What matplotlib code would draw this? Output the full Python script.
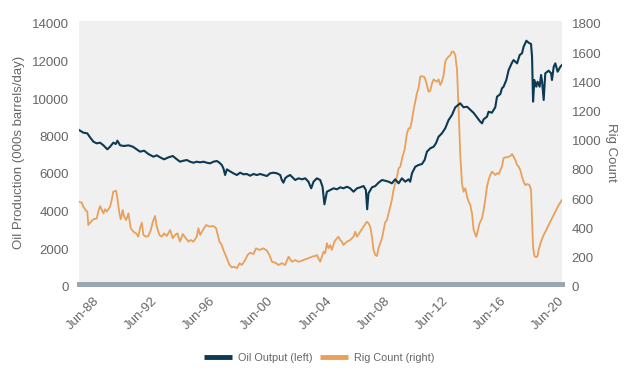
import matplotlib
matplotlib.use("Agg")
import matplotlib.pyplot as plt
import matplotlib.transforms as mtransforms
from matplotlib.lines import Line2D

plt.rcParams['font.family'] = ['Liberation Sans', 'DejaVu Sans']

# ---- data (decimal years) ----
oil_years = [
    1987.45, 1987.75, 1988.02, 1988.21, 1988.44, 1988.67, 1988.90, 1989.13, 1989.40, 1989.59,
    1989.81, 1989.98, 1990.09, 1990.28, 1990.55, 1990.85, 1991.15, 1991.42, 1991.65, 1991.93,
    1992.22, 1992.57, 1992.80, 1993.03, 1993.30, 1993.60, 1993.90, 1994.18, 1994.40, 1994.63,
    1994.87, 1995.09, 1995.32, 1995.55, 1995.78, 1996.01, 1996.24, 1996.47, 1996.70, 1996.93,
    1997.11, 1997.27, 1997.38, 1997.50, 1997.62, 1997.80, 1998.07, 1998.31, 1998.53, 1998.76,
    1998.99, 1999.22, 1999.45, 1999.68, 1999.91, 2000.14, 2000.37, 2000.60, 2000.83, 2001.06,
    2001.29, 2001.40, 2001.51, 2001.63, 2001.75, 2001.97, 2002.09, 2002.32, 2002.55, 2002.78,
    2003.01, 2003.23, 2003.42, 2003.58, 2003.81, 2004.04, 2004.20, 2004.33, 2004.50, 2004.73,
    2004.96, 2005.19, 2005.42, 2005.64, 2005.88, 2006.10, 2006.33, 2006.57, 2006.79, 2007.02,
    2007.18, 2007.27, 2007.36, 2007.60, 2007.83, 2008.05, 2008.29, 2008.51, 2008.74, 2008.97,
    2009.20, 2009.43, 2009.66, 2009.89, 2010.12, 2010.23, 2010.35, 2010.58, 2010.80, 2011.04,
    2011.22, 2011.38, 2011.61, 2011.84, 2012.00, 2012.18, 2012.41, 2012.64, 2012.87, 2013.10,
    2013.33, 2013.52, 2013.67, 2013.90, 2014.14, 2014.36, 2014.59, 2014.82, 2015.05, 2015.17,
    2015.28, 2015.51, 2015.62, 2015.85, 2016.08, 2016.20, 2016.43, 2016.54, 2016.65, 2016.84,
    2017.00, 2017.23, 2017.34, 2017.58, 2017.76, 2017.92, 2018.03, 2018.22, 2018.37, 2018.54,
    2018.61, 2018.68, 2018.77, 2018.90, 2018.99, 2019.13, 2019.23, 2019.30, 2019.41, 2019.52,
    2019.75, 2019.92, 2019.98, 2020.10, 2020.21, 2020.37, 2020.56, 2020.67,
]
oil_output = [
    8187, 8044, 8009, 7796, 7564, 7475, 7511, 7369, 7156, 7298,
    7511, 7440, 7618, 7369, 7333, 7369, 7298, 7156, 7031, 7084,
    6906, 6764, 6835, 6728, 6622, 6728, 6800, 6622, 6497, 6549,
    6586, 6496, 6442, 6496, 6461, 6496, 6442, 6410, 6496, 6533,
    6442, 6320, 6143, 5786, 6090, 6000, 5877, 5786, 5909, 5824,
    5840, 5749, 5840, 5786, 5840, 5786, 5733, 5877, 5909, 5877,
    5786, 5520, 5376, 5610, 5696, 5786, 5696, 5520, 5610, 5556,
    5610, 5429, 5077, 5429, 5610, 5520, 5162, 4224, 4896, 4986,
    5077, 5024, 5130, 5077, 5162, 5077, 4896, 5077, 5130, 5200,
    4986, 3957, 4810, 5130, 5200, 5376, 5520, 5480, 5429, 5344,
    5557, 5344, 5610, 5429, 5557, 5429, 5877, 6229, 6320, 6373,
    6586, 7029, 7210, 7296, 7477, 7829, 8010, 8277, 8719, 8986,
    9397, 9520, 9610, 9397, 9429, 9270, 9100, 8863, 8629, 8543,
    8757, 8896, 9162, 9109, 9397, 9962, 10106, 10410, 10495, 10853,
    11386, 11776, 11919, 11742, 12186, 12277, 12628, 12948, 12842, 12773,
    12095, 9697, 10853, 10495, 10762, 10495, 11120, 10762, 9786, 11210,
    11349, 11210, 10853, 11562, 11742, 11296, 11562, 11653,
]

rig_years = [
    1987.45, 1987.64, 1987.75, 1987.93, 1988.02, 1988.09, 1988.21, 1988.44, 1988.67, 1988.78,
    1988.90, 1989.02, 1989.13, 1989.24, 1989.36, 1989.59, 1989.70, 1989.81, 1990.00, 1990.09,
    1990.23, 1990.32, 1990.46, 1990.55, 1990.69, 1990.85, 1991.01, 1991.19, 1991.38, 1991.53,
    1991.65, 1991.77, 1991.88, 1992.06, 1992.22, 1992.39, 1992.53, 1992.68, 1992.80, 1992.98,
    1993.15, 1993.30, 1993.49, 1993.72, 1993.90, 1994.06, 1994.22, 1994.40, 1994.59, 1994.75,
    1994.98, 1995.14, 1995.32, 1995.55, 1995.66, 1995.78, 1996.01, 1996.19, 1996.42, 1996.70,
    1996.88, 1996.97, 1997.11, 1997.27, 1997.38, 1997.62, 1997.80, 1997.96, 1998.12, 1998.31,
    1998.49, 1998.65, 1998.88, 1999.04, 1999.22, 1999.45, 1999.63, 1999.86, 2000.14, 2000.37,
    2000.55, 2000.72, 2000.94, 2001.17, 2001.40, 2001.63, 2001.86, 2002.09, 2002.32, 2002.55,
    2002.78, 2003.01, 2003.23, 2003.47, 2003.70, 2003.81, 2003.92, 2004.04, 2004.16, 2004.27,
    2004.38, 2004.50, 2004.61, 2004.73, 2004.84, 2005.02, 2005.19, 2005.30, 2005.42, 2005.53,
    2005.64, 2005.88, 2006.10, 2006.33, 2006.45, 2006.57, 2006.79, 2007.02, 2007.25, 2007.36,
    2007.48, 2007.60, 2007.71, 2007.83, 2007.94, 2008.05, 2008.29, 2008.51, 2008.63, 2008.74,
    2008.86, 2008.97, 2009.08, 2009.20, 2009.32, 2009.43, 2009.55, 2009.70, 2009.84, 2009.94,
    2010.01, 2010.12, 2010.23, 2010.35, 2010.46, 2010.58, 2010.69, 2010.80, 2010.92, 2011.04,
    2011.22, 2011.38, 2011.49, 2011.61, 2011.73, 2011.84, 2011.95, 2012.07, 2012.18, 2012.30,
    2012.41, 2012.53, 2012.64, 2012.76, 2012.99, 2013.10, 2013.21, 2013.33, 2013.45, 2013.56,
    2013.67, 2013.79, 2013.90, 2014.02, 2014.14, 2014.25, 2014.36, 2014.48, 2014.59, 2014.71,
    2014.78, 2014.86, 2015.00, 2015.17, 2015.28, 2015.39, 2015.51, 2015.62, 2015.74, 2015.85,
    2015.97, 2016.08, 2016.20, 2016.31, 2016.43, 2016.54, 2016.65, 2016.77, 2016.89, 2017.00,
    2017.12, 2017.23, 2017.34, 2017.46, 2017.58, 2017.69, 2017.80, 2017.92, 2018.03, 2018.15,
    2018.26, 2018.44, 2018.54, 2018.61, 2018.68, 2018.77, 2018.90, 2018.99, 2019.06, 2019.23,
    2019.41, 2019.59, 2019.75, 2019.98, 2020.21, 2020.44, 2020.67,
]
rig_count = [
    561, 554, 527, 499, 493, 401, 417, 440, 447, 493,
    531, 504, 481, 509, 493, 527, 573, 630, 637, 584,
    481, 440, 504, 458, 435, 481, 379, 355, 344, 321,
    379, 417, 333, 321, 326, 367, 424, 463, 390, 333,
    321, 344, 326, 367, 310, 333, 344, 287, 339, 317,
    287, 298, 287, 321, 379, 333, 372, 401, 390, 394,
    379, 344, 287, 264, 230, 173, 127, 111, 115, 104,
    139, 127, 161, 195, 211, 202, 241, 230, 241, 225,
    195, 149, 143, 127, 139, 127, 184, 149, 161, 149,
    156, 166, 173, 184, 189, 195, 173, 149, 184, 218,
    207, 276, 241, 264, 230, 287, 310, 321, 298, 287,
    264, 287, 298, 321, 355, 321, 355, 390, 424, 413,
    390, 321, 230, 195, 189, 241, 310, 420, 435, 481,
    527, 573, 641, 687, 732, 790, 801, 870, 915, 984,
    1030, 1064, 1064, 1121, 1190, 1247, 1304, 1338, 1418, 1423,
    1414, 1361, 1315, 1322, 1373, 1400, 1391, 1384, 1400, 1361,
    1384, 1430, 1521, 1544, 1567, 1590, 1590, 1567, 1464, 1190,
    893, 687, 630, 653, 595, 561, 540, 481, 370, 335,
    321, 355, 413, 447, 504, 573, 664, 710, 744, 767,
    756, 744, 756, 751, 778, 801, 859, 865, 865, 870,
    874, 888, 870, 847, 813, 801, 778, 732, 698, 675,
    682, 675, 641, 435, 252, 189, 180, 189, 230, 287,
    333, 367, 401, 447, 493, 538, 573,
]

tick_years = [1988.42, 1992.42, 1996.42, 2000.42, 2004.42, 2008.42, 2012.42, 2016.42, 2020.42]
tick_labels = ['Jun-88', 'Jun-92', 'Jun-96', 'Jun-00', 'Jun-04', 'Jun-08', 'Jun-12', 'Jun-16', 'Jun-20']
left_ticks = [0, 2000, 4000, 6000, 8000, 10000, 12000, 14000]
right_ticks = [0, 200, 400, 600, 800, 1000, 1200, 1400, 1600, 1800]

oil_color = '#0c3a52'
rig_color = '#e9a05a'
text_color = '#666666'

fig = plt.figure(figsize=(6.3, 3.78), dpi=100)
ax = fig.add_axes([79/630, 1-283.5/378, (562-79)/630, (283.5-21)/378])
ax2 = ax.twinx()

ax.plot(oil_years, oil_output, color=oil_color, lw=1.5, zorder=3)
ax2.plot(rig_years, rig_count, color=rig_color, lw=1.3, zorder=2)
ax.set_zorder(ax2.get_zorder() + 1)
ax.patch.set_visible(False)
ax2.patch.set_visible(True)
ax2.patch.set_facecolor('#f0f0f0')

ax.set_xlim(oil_years[0], oil_years[-1])
ax.set_ylim(0, 14000)
ax2.set_ylim(0, 1800)

ax.set_yticks(left_ticks)
ax2.set_yticks(right_ticks)
ax.set_xticks(tick_years)
ax.set_xticklabels(tick_labels, rotation=45, ha='right', rotation_mode='anchor')

for a in (ax, ax2):
    for s in a.spines.values():
        s.set_visible(False)
    a.tick_params(length=0, colors=text_color, labelsize=9.5)
ax.tick_params(axis='y', pad=7)
ax2.tick_params(axis='y', pad=7)
ax.tick_params(axis='x', pad=8)

ax2.spines['bottom'].set_visible(True)
ax2.spines['bottom'].set_color('#98a7b0')
ax2.spines['bottom'].set_linewidth(3.6)

off = mtransforms.ScaledTranslation(0, -3/100, fig.dpi_scale_trans)
for lab in ax.get_yticklabels() + ax2.get_yticklabels():
    lab.set_transform(lab.get_transform() + off)

ax.set_ylabel('Oil Production (000s barrels/day)', color=text_color, fontsize=9.5, labelpad=5)
ax2.set_ylabel('Rig Count', color=text_color, fontsize=9.5, rotation=270, labelpad=11)

handles = [Line2D([], [], color=oil_color, lw=3.5, solid_capstyle='butt'),
           Line2D([], [], color=rig_color, lw=3.5, solid_capstyle='butt')]
leg = fig.legend(handles, ['Oil Output (left)', 'Rig Count (right)'], loc='center',
                 bbox_to_anchor=(0.507, 0.053), ncol=2, frameon=False, fontsize=7.8,
                 handlelength=2.6, handletextpad=0.55, columnspacing=0.65)
for t in leg.get_texts():
    t.set_color(text_color)

fig.savefig('out.png', dpi=100, facecolor='white')
